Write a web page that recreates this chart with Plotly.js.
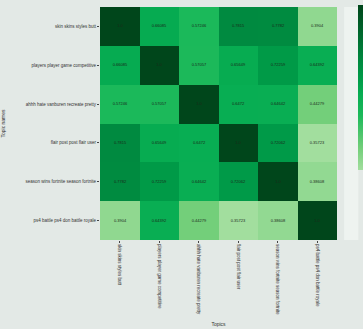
<!DOCTYPE html>
<html>
<head>
<meta charset="utf-8">
<script src="https://cdn.plot.ly/plotly-3.0.1.min.js"></script>
<style>html,body{margin:0;padding:0;background:#e3e9e6;}#chart{width:363px;height:329px;}</style>
</head>
<body>
<div id="chart"></div>
<script>
const topics = [
  "skin skins styles butt",
  "players player game competitive",
  "ahhh hate vanburen recreate pretty",
  "flair post post flair user",
  "season wins fortnite season fortnite",
  "ps4 battle ps4 don battle royale"
];
const row0 = [1.0, 0.66085, 0.57246, 0.7815, 0.7782, 0.3904];
const row1 = [0.66085, 1.0, 0.57057, 0.65649, 0.72259, 0.64392];
const row2 = [0.57246, 0.57057, 1.0, 0.6472, 0.64642, 0.44279];
const row3 = [0.7815, 0.65649, 0.6472, 1.0, 0.72062, 0.35723];
const row4 = [0.7782, 0.72259, 0.64642, 0.72062, 1.0, 0.38608];
const row5 = [0.3904, 0.64392, 0.44279, 0.35723, 0.38608, 1.0];
const xTitle = "Topics";
const yTitle = "Topic names";

const z = [row0, row1, row2, row3, row4, row5];
const text = z.map(r => r.map(v => v === 1 ? "1.0" : String(v)));

const trace = {
  type: "heatmap",
  x: topics,
  y: topics,
  z: z,
  text: text,
  texttemplate: "%{text}",
  textfont: {size: 4, color: "#1a2a1a", family: "Liberation Sans"},
  colorscale: [
    [0, "#a2de9e"], [0.13, "#74cf7a"], [0.33, "#1cb95a"], [0.46, "#07ad52"],
    [0.56, "#009b48"], [0.66, "#008a40"], [1, "#00461b"]
  ],
  zmin: 0.35723, zmax: 1.0,
  colorbar: {xref: "container", x: 0.985, xanchor: "left", thickness: 20, xpad: 0,
             yref: "container", y: 1 - 7/329, yanchor: "top", len: 233/329, lenmode: "fraction", ypad: 0,
             outlinewidth: 0, showticklabels: false, ticks: "", bgcolor: "rgba(0,0,0,0)"}
};

const layout = {
  width: 363, height: 329,
  margin: {l: 100, r: 26, t: 7, b: 89},
  paper_bgcolor: "#e3e9e6",
  plot_bgcolor: "#e3e9e6",
  font: {family: "Liberation Sans", size: 4, color: "#333"},
  xaxis: {tickangle: 90, tickfont: {size: 4.5, color: "#333"}, ticks: "outside", ticklen: 2,
          title: {text: xTitle, font: {size: 5}, standoff: 8}, showgrid: false},
  yaxis: {autorange: "reversed", tickfont: {size: 4.5, color: "#333"}, ticks: "outside", ticklen: 2,
          title: {text: yTitle, font: {size: 5}, standoff: 64}, showgrid: false},
  shapes: [{type: "rect", xref: "paper", yref: "paper", x0: 1.03, x1: 1.09, y0: 0, y1: 1,
            fillcolor: "#eef3f0", line: {width: 0}, layer: "below"}],
  showlegend: false
};

Plotly.newPlot("chart", [trace], layout, {displayModeBar: false, staticPlot: true});
</script>
</body>
</html>
